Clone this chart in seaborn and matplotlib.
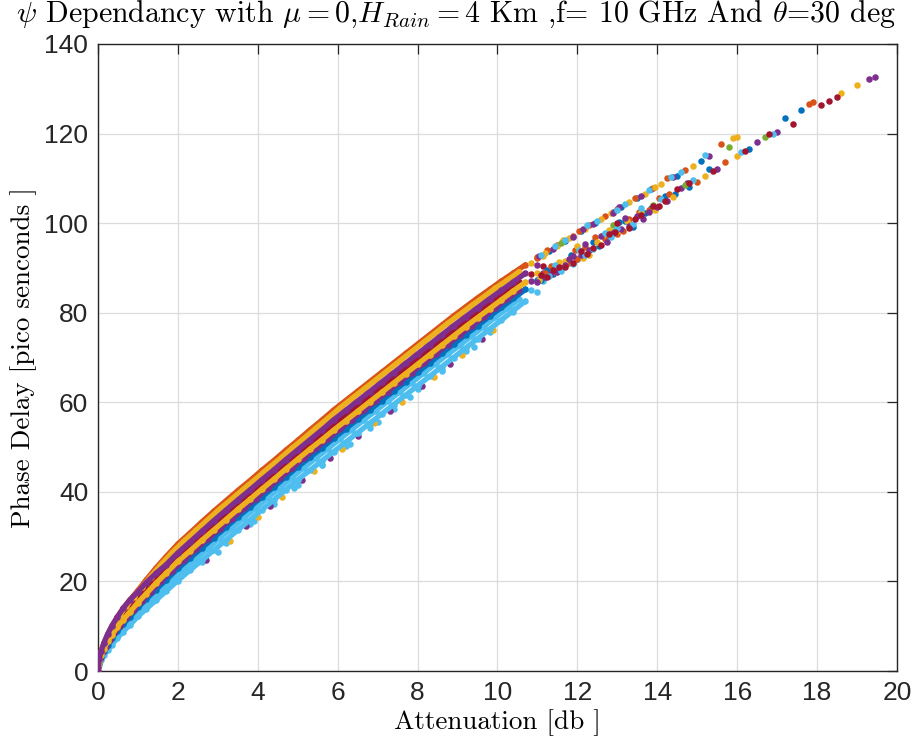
import matplotlib
matplotlib.use("Agg")
import matplotlib.pyplot as plt
import seaborn as sns
import numpy as np
import pandas as pd

# ---------------- data ----------------
atten_a = [0, 0.03, 0.08, 0.15, 0.24, 0.35, 0.48, 0.63, 0.8, 1.0, 1.2, 1.45, 1.7, 2.0, 2.3, 2.6, 2.9,
           3.2, 3.5, 3.8, 4.1, 4.4, 4.7, 5.0, 5.3, 5.6, 5.9, 6.2, 6.5, 6.8, 7.1, 7.4, 7.7, 8.0, 8.3,
           8.6, 8.9, 9.2, 9.5, 9.8, 10.1, 10.4, 10.7, 11.0]
atten_b = [0.01, 0.05, 0.11, 0.19, 0.29, 0.41, 0.55, 0.71, 0.9, 1.1, 1.32, 1.57, 1.85, 2.15, 2.45,
           2.75, 3.05, 3.35, 3.65, 3.95, 4.25, 4.55, 4.85, 5.15, 5.45, 5.75, 6.05, 6.35, 6.65, 6.95,
           7.25, 7.55, 7.85, 8.15, 8.45, 8.75, 9.05, 9.35, 9.65, 9.95, 10.25, 10.55, 10.85, 11.15]

delay_lightblue_a = [0, 1.4, 2.5, 3.6, 4.7, 5.9, 7.3, 8.8, 10.3, 12.2, 13.8, 15.8, 17.8, 20.2, 22.5,
                     24.7, 27.0, 29.2, 31.5, 33.7, 36.0, 38.2, 40.5, 42.7, 44.8, 46.9, 49.0, 51.1,
                     53.2, 55.3, 57.4, 59.5, 61.6, 63.7, 65.8, 67.9, 70.0, 72.1, 74.2, 76.3, 78.4,
                     80.5, 82.6, 84.7]
delay_lightblue_b = [0.9, 2.2, 3.4, 4.7, 6.0, 7.4, 8.9, 10.5, 12.3, 14.2, 16.1, 18.2, 20.5, 22.8, 25.1,
                     27.4, 29.7, 31.9, 34.2, 36.4, 38.7, 40.9, 43.2, 45.4, 47.5, 49.6, 51.8, 53.9,
                     56.0, 58.1, 60.2, 62.3, 64.4, 66.5, 68.6, 70.7, 72.7, 74.8, 76.9, 79.0, 81.0,
                     83.1, 85.1, 87.1]
delay_blue_a = [0, 1.8, 3.2, 4.5, 5.9, 7.3, 8.9, 10.5, 12.1, 14.2, 16.0, 18.2, 20.3, 22.9, 25.2, 27.5,
                29.8, 32.1, 34.4, 36.6, 38.9, 41.1, 43.4, 45.6, 47.7, 49.8, 52.0, 54.1, 56.2, 58.3,
                60.4, 62.5, 64.6, 66.7, 68.8, 70.9, 73.0, 75.1, 77.1, 79.2, 81.2, 83.2, 85.2, 87.3]
delay_yellow_a = [0, 2.1, 3.6, 5.0, 6.6, 8.1, 9.8, 11.5, 13.2, 15.3, 17.2, 19.6, 21.8, 24.5, 26.8,
                  29.2, 31.5, 33.8, 36.1, 38.3, 40.6, 42.8, 45.1, 47.3, 49.5, 51.6, 53.8, 55.9, 58.0,
                  60.1, 62.2, 64.3, 66.4, 68.5, 70.6, 72.7, 74.8, 76.9, 78.9, 80.9, 82.9, 84.9,
                  86.8, 88.8]
delay_purple_b = [1.0, 2.6, 4.0, 5.4, 6.9, 8.5, 10.1, 11.8, 13.7, 15.7, 17.7, 20.0, 22.4, 24.8, 27.2,
                  29.5, 31.8, 34.0, 36.3, 38.5, 40.8, 43.0, 45.3, 47.5, 49.7, 51.8, 54.0, 56.1, 58.2,
                  60.3, 62.4, 64.5, 66.6, 68.7, 70.8, 72.9, 75.0, 77.0, 79.0, 81.1, 83.1, 85.1,
                  87.0, 88.9]
delay_darkred_b = [1.2, 2.9, 4.5, 6.1, 7.7, 9.4, 11.2, 12.9, 14.9, 17.0, 19.1, 21.6, 24.1, 26.6, 29.0,
                   31.3, 33.7, 35.9, 38.2, 40.4, 42.7, 44.9, 47.2, 49.4, 51.6, 53.8, 56.0, 58.1,
                   60.2, 62.3, 64.4, 66.5, 68.6, 70.7, 72.8, 74.9, 76.9, 79.0, 80.9, 83.0, 84.9,
                   86.8, 88.7, 90.5]
delay_orange_a = [0, 2.6, 4.5, 6.3, 8.2, 10.1, 12.0, 14.0, 15.9, 18.0, 20.3, 23.0, 25.5, 28.4, 30.8,
                  33.3, 35.7, 38.0, 40.3, 42.5, 44.8, 47.0, 49.3, 51.5, 53.8, 56.0, 58.3, 60.4, 62.5,
                  64.6, 66.7, 68.8, 70.9, 73.0, 75.1, 77.2, 79.3, 81.3, 83.3, 85.2, 87.1, 88.9,
                  90.7, 92.5]
delay_yellow_b = [1.4, 3.4, 5.1, 7.0, 8.8, 10.7, 12.6, 14.5, 16.6, 18.7, 21.1, 23.7, 26.4, 29.0, 31.4,
                  33.8, 36.2, 38.4, 40.7, 42.9, 45.2, 47.4, 49.7, 51.9, 54.2, 56.4, 58.7, 60.8,
                  62.9, 65.0, 67.1, 69.2, 71.3, 73.4, 75.5, 77.6, 79.6, 81.6, 83.5, 85.5, 87.3,
                  89.2, 91.0, 92.7]
delay_purple_a = [0, 2.6, 4.5, 6.3, 8.2, 10.1, 12.0, 14.0, 15.9, 17.7, 19.7, 21.8, 23.7, 26.4, 28.8,
                  31.2, 33.6, 35.9, 38.2, 40.4, 42.7, 44.9, 47.2, 49.4, 51.6, 53.8, 56.1, 58.2, 60.3,
                  62.4, 64.5, 66.6, 68.7, 70.8, 72.9, 75.0, 77.1, 79.1, 81.1, 83.1, 85.0, 86.9,
                  88.8, 90.6]

# scattered points hanging below the lower edge of the band
fringe_lightblue_x = [2.6, 3.0, 3.2, 3.8, 3.9, 4.4, 4.9, 5.0, 5.6, 5.6, 6.2, 6.3, 6.8, 7.0, 7.4, 7.8,
                      8.0, 8.6, 8.6, 9.2, 9.4, 9.8, 10.4]
fringe_lightblue_y = [24.3, 26.6, 28.6, 32.8, 33.5, 37.2, 40.8, 41.6, 45.9, 45.9, 50.2, 50.6, 54.3,
                      55.7, 58.6, 61.1, 62.9, 66.9, 67.2, 71.5, 72.4, 75.8, 80.2]
fringe_yellow_x = [3.3, 4.0, 4.6, 5.4, 6.1, 6.9, 7.6, 8.4, 9.1, 9.9]
fringe_yellow_y = [29.1, 34.3, 38.9, 44.6, 49.5, 55.3, 60.0, 65.7, 70.6, 76.1]
fringe_purple_x = [2.7, 3.7, 4.3, 5.1, 5.8, 6.5, 7.3, 8.1, 8.8, 9.6]
fringe_purple_y = [24.7, 32.3, 36.8, 42.7, 47.6, 52.5, 58.1, 63.7, 68.6, 74.2]

# sparse tail (two branches, then a single chain)
tail_blue_x = [11.3, 11.7, 12.1, 12.9, 13.1, 13.5, 14.5, 15.1, 11.1, 11.4, 11.6, 12.0, 12.4, 12.8,
               12.9, 13.2, 13.4, 13.7, 14.2, 14.8, 15.3, 16.3, 17.2, 17.6,
               11.25, 11.85, 12.55, 13.05, 13.85, 14.45, 12.45, 13.85]
tail_blue_y = [93.8, 96.0, 98.2, 102.6, 103.6, 105.7, 110.6, 113.8, 87.4, 88.6, 89.9, 92.1, 95.9,
               97.2, 98.0, 100.4, 99.2, 102.3, 106.1, 108.1, 112.2, 116.6, 123.5, 125.3,
               89.5, 92.8, 95.0, 100.3, 103.4, 106.5, 100.0, 107.6]
tail_orange_x = [11.0, 11.5, 11.9, 12.3, 12.7, 13.0, 13.9, 14.7, 15.6, 11.2, 11.5, 11.8, 12.0, 12.2,
                 12.7, 13.0, 13.3, 13.8, 14.3, 15.0, 15.7, 17.8, 17.9,
                 11.35, 11.95, 12.45, 13.15, 13.55, 14.05, 11.25, 12.05, 13.45, 14.25]
tail_orange_y = [92.3, 95.2, 97.1, 99.5, 101.5, 103.2, 107.8, 111.8, 117.6, 88.8, 90.0, 91.2, 92.0,
                 94.6, 96.4, 97.6, 100.9, 103.0, 106.6, 109.2, 113.6, 126.6, 127.0,
                 90.4, 93.9, 96.8, 98.3, 102.5, 105.6, 93.9, 98.3, 105.6, 110.0]
tail_yellow_x = [11.2, 11.5, 11.8, 12.2, 12.6, 13.3, 13.7, 14.1, 14.9, 15.9, 16.0, 11.4, 11.7, 12.0,
                 12.3, 12.5, 12.8, 13.0, 13.6, 14.4, 15.2, 16.0, 18.6, 19.0,
                 11.05, 11.55, 12.15, 12.65, 13.25, 13.95, 11.65, 12.85, 13.95]
tail_yellow_y = [93.4, 94.9, 96.6, 98.8, 101.0, 104.8, 106.6, 108.8, 112.7, 119.0, 119.3, 89.0, 91.5,
                 94.8, 92.8, 95.7, 98.5, 98.2, 102.6, 105.9, 110.6, 115.0, 129.0, 130.8,
                 87.2, 91.4, 92.3, 97.4, 100.5, 102.9, 96.2, 102.2, 108.0]
tail_purple_x = [11.4, 11.9, 12.4, 12.9, 13.6, 14.4, 15.3, 11.0, 11.2, 11.5, 11.7, 11.9, 12.1, 12.3,
                 12.6, 12.9, 13.1, 13.3, 13.5, 13.8, 14.0, 14.6, 15.5, 16.5, 17.0, 19.3, 19.45,
                 11.35, 11.8, 12.2, 12.75, 13.2, 13.65, 14.25, 14.75, 11.05, 12.15, 13.05]
tail_purple_y = [94.3, 96.8, 99.8, 102.3, 106.1, 110.2, 114.9, 86.9, 88.0, 89.2, 90.6, 92.6, 93.0,
                 93.9, 97.1, 97.9, 98.6, 99.4, 101.5, 102.6, 103.6, 107.9, 112.0, 118.2, 120.4,
                 132.1, 132.6,
                 88.6, 92.0, 95.4, 95.9, 101.1, 100.9, 105.0, 109.0, 92.7, 98.8, 103.5]
tail_green_x = [11.6, 12.9, 13.9, 14.7, 15.8, 16.7]
tail_green_y = [95.6, 99.6, 104.0, 108.6, 116.9, 119.3]
tail_lightblue_x = [11.1, 11.7, 12.5, 13.2, 13.8, 14.6, 15.2, 11.3, 11.6, 11.9, 12.2, 12.4, 12.7, 13.0,
                    13.4, 14.1, 14.9, 16.1, 16.9,
                    11.45, 12.05, 12.85, 13.6, 11.45, 12.25, 13.0, 14.35]
tail_lightblue_y = [93.0, 96.2, 100.5, 104.3, 107.4, 111.4, 115.2, 88.2, 89.4, 90.9, 93.0, 94.3, 97.8,
                    98.9, 99.9, 105.3, 109.6, 115.9, 120.0,
                    90.7, 94.0, 97.0, 103.3, 94.8, 99.5, 103.0, 110.4]
tail_darkred_x = [11.1, 11.4, 11.7, 11.9, 12.1, 12.4, 12.6, 12.8, 13.0, 13.3, 13.6, 13.9, 14.2, 14.8,
                  15.4, 16.2, 16.8, 17.4, 18.1, 18.3, 18.5,
                  11.25, 11.55, 12.25, 12.95, 13.45, 14.05, 14.5]
tail_darkred_y = [88.5, 89.6, 90.3, 91.2, 93.8, 94.5, 95.2, 97.5, 100.1, 98.9, 101.9, 103.9, 104.9,
                  108.9, 111.6, 116.1, 119.8, 122.2, 126.4, 127.3, 128.2,
                  88.0, 90.1, 93.1, 98.1, 101.0, 103.8, 107.6]

x_ticks = [0, 2, 4, 6, 8, 10, 12, 14, 16, 18, 20]
y_ticks = [0, 20, 40, 60, 80, 100, 120, 140]

COLORS = {"blue": "#0072BD", "orange": "#D95319", "yellow": "#EDB120", "purple": "#7E2F8E",
          "green": "#77AC30", "lightblue": "#4DBEEE", "darkred": "#A2142F"}

# ---------------- style ----------------
sns.set_theme(style="white")
plt.rcParams["font.family"] = ["Liberation Sans", "DejaVu Sans"]
plt.rcParams["mathtext.fontset"] = "cm"

fig = plt.figure(figsize=(9.14, 7.47), dpi=100)
ax = fig.add_axes([0.1072, 0.1017, 0.8742, 0.8394])

# dense band: each lane is so packed that its dots merge into a stripe
lanes = [
    (atten_a, delay_lightblue_a, "lightblue"),
    (atten_b, delay_lightblue_b, "lightblue"),
    (atten_b, delay_darkred_b, "darkred"),
    (atten_a, delay_blue_a, "blue"),
    (atten_b, delay_purple_b, "purple"),
    (atten_a, delay_yellow_a, "yellow"),
    (atten_a, delay_orange_a, "orange"),
    (atten_b, delay_yellow_b, "yellow"),
    (atten_a, delay_purple_a, "purple"),
]
fringes = [
    (fringe_lightblue_x, fringe_lightblue_y, "lightblue"),
    (fringe_yellow_x, fringe_yellow_y, "yellow"),
    (fringe_purple_x, fringe_purple_y, "purple"),
]
tails = [
    (tail_blue_x, tail_blue_y, "blue"),
    (tail_orange_x, tail_orange_y, "orange"),
    (tail_yellow_x, tail_yellow_y, "yellow"),
    (tail_purple_x, tail_purple_y, "purple"),
    (tail_green_x, tail_green_y, "green"),
    (tail_lightblue_x, tail_lightblue_y, "lightblue"),
    (tail_darkred_x, tail_darkred_y, "darkred"),
]

DOT = 22
for xs, ys, c in fringes:
    sns.scatterplot(x=xs, y=ys, color=COLORS[c], s=DOT, linewidth=0, ax=ax, legend=False, zorder=3)
for xs, ys, c in lanes:
    df = pd.DataFrame({"Attenuation": xs, "Delay": ys})
    dense = df[df["Attenuation"] <= 10.8]
    sns.lineplot(data=dense, x="Attenuation", y="Delay", color=COLORS[c], linewidth=3.8,
                 sort=False, estimator=None, ax=ax, legend=False, zorder=3,
                 solid_capstyle="round", solid_joinstyle="round")
    sns.scatterplot(data=df, x="Attenuation", y="Delay", color=COLORS[c], s=DOT, linewidth=0,
                    ax=ax, legend=False, zorder=3)
for xs, ys, c in tails:
    sns.scatterplot(x=xs, y=ys, color=COLORS[c], s=DOT, linewidth=0, ax=ax, legend=False, zorder=3)

ax.set_xlim(0, 20)
ax.set_ylim(0, 140)
ax.set_xticks(x_ticks)
ax.set_yticks(y_ticks)
ax.grid(True, color="#dcdcdc", linewidth=0.9)
ax.set_axisbelow(True)
ax.tick_params(direction="in", length=7, width=0.9, top=True, right=True,
               labelsize=19, colors="#262626", pad=7)
for sp in ax.spines.values():
    sp.set_visible(True)
    sp.set_color("#262626")
    sp.set_linewidth(1.0)

fig.text(0.499, 0.981,
         r"$\psi$ Dependancy with $\mu = 0$,$H_{Rain} = 4$ Km ,f= 10 GHz And $\theta$=30 deg",
         fontfamily="cmr10", fontsize=21.5, color="black", ha="center", va="center")
ax.set_xlabel("Attenuation [db ]", fontfamily="cmr10", fontsize=19.5, color="black", labelpad=3)
ax.set_ylabel("Phase Delay [pico senconds ]", fontfamily="cmr10", fontsize=19.5, color="black",
              labelpad=5)

fig.savefig("out.png", dpi=100)
